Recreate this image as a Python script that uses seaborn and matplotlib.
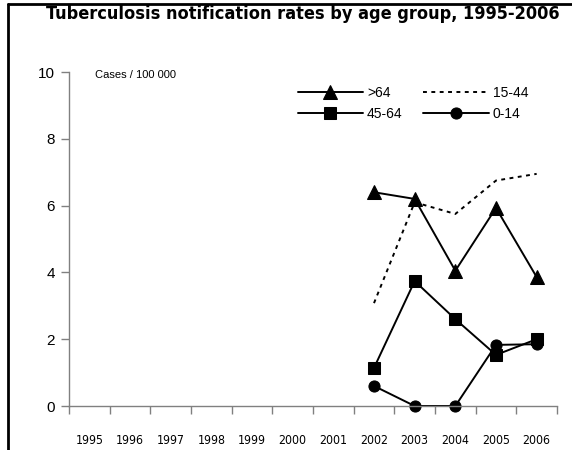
import matplotlib
matplotlib.use("Agg")
import matplotlib.pyplot as plt
from matplotlib.lines import Line2D
import seaborn as sns
import pandas as pd
import numpy as np

years = [2002, 2003, 2004, 2005, 2006]
all_years = list(range(1995, 2007))
over64 = [6.4, 6.2, 4.05, 5.93, 3.86]
age15_44 = [3.08, 6.1, 5.75, 6.75, 6.95]
age45_64 = [1.14, 3.74, 2.6, 1.53, 2.0]
age0_14 = [0.6, 0.0, 0.0, 1.83, 1.85]
series_names = [">64", "45-64", "15-44", "0-14"]

df = pd.DataFrame({
    "year": years * 4,
    "value": over64 + age45_64 + age15_44 + age0_14,
    "group": sum([[n] * len(years) for n in series_names], []),
})

sns.set_theme(style="white")
plt.rcParams['font.family'] = ['Liberation Sans', 'DejaVu Sans']
plt.rcParams['text.color'] = 'black'
plt.rcParams['xtick.labelcolor'] = 'black'
plt.rcParams['ytick.labelcolor'] = 'black'

fig = plt.figure(figsize=(5.72, 4.5), dpi=100)
ax = fig.add_axes([69/572, 1-406/450, (557-69)/572, (406-72)/450])

styles = {
    ">64": dict(marker="^", markersize=9.5, linestyle="-"),
    "45-64": dict(marker="s", markersize=8, linestyle="-"),
    "15-44": dict(marker=None, linestyle=(0, (2, 2.3))),
    "0-14": dict(marker="o", markersize=8, linestyle="-"),
}
for name in series_names:
    sub = df[df["group"] == name]
    st = styles[name]
    sns.lineplot(data=sub, x="year", y="value", ax=ax, color="black",
                 linewidth=1.4, marker=st.get("marker"),
                 markersize=st.get("markersize", 0),
                 markeredgecolor="black", linestyle=st["linestyle"],
                 label=name, clip_on=False)

ax.set_xlim(1994.5, 2006.5)
ax.set_ylim(0, 10)
ax.set_yticks([0, 2, 4, 6, 8, 10])
ax.set_xticks(all_years)
ax.set_xticklabels([str(y) for y in all_years],
                   fontdict=dict(family='DejaVu Sans', stretch='condensed', size=8.8))
ax.set_xticks(np.arange(1994.5, 2007, 1.0), minor=True)
ax.tick_params(axis='x', which='major', bottom=True, length=0, pad=20, colors='black')
ax.tick_params(axis='x', which='minor', bottom=True, length=6, direction='out', color='#808080', width=1)
ax.tick_params(axis='y', left=True, length=6, direction='out', color='#808080', width=1, labelsize=11, pad=4,
               labelcolor='black')
for s in ['top', 'right']:
    ax.spines[s].set_visible(False)
for s in ['left', 'bottom']:
    ax.spines[s].set_color('#808080')
    ax.spines[s].set_linewidth(1)
ax.set_xlabel("")
ax.set_ylabel("")
ax.grid(False)

fig.text(95/572, 1-75/450, "Cases / 100 000", fontsize=8, va='center', ha='left', color='black')

handles, labels = ax.get_legend_handles_labels()
order = [labels.index(n) for n in [">64", "45-64", "15-44", "0-14"]]
leg = ax.legend([handles[i] for i in order], [labels[i] for i in order],
                ncol=2, frameon=False, fontsize=10, handlelength=4.7,
                handletextpad=0.3, columnspacing=1.5, labelspacing=0.55,
                loc='upper left', bbox_to_anchor=(292/572, 1-80/450),
                bbox_transform=fig.transFigure, borderaxespad=0)
for t in leg.get_texts():
    t.set_color('black')

fig.text(46/572, 1-19/450, "Tuberculosis notification rates by age group, 1995-2006",
         fontsize=13, fontweight='bold', family='DejaVu Sans', stretch='condensed',
         ha='left', va='baseline', color='black')

fig.add_artist(Line2D([8/572, 8/572], [0, 1-4/450], transform=fig.transFigure,
                      color='black', linewidth=2))
fig.add_artist(Line2D([8/572, 1], [1-4/450, 1-4/450], transform=fig.transFigure,
                      color='black', linewidth=2))

fig.savefig("out.png", dpi=100, facecolor='white')
